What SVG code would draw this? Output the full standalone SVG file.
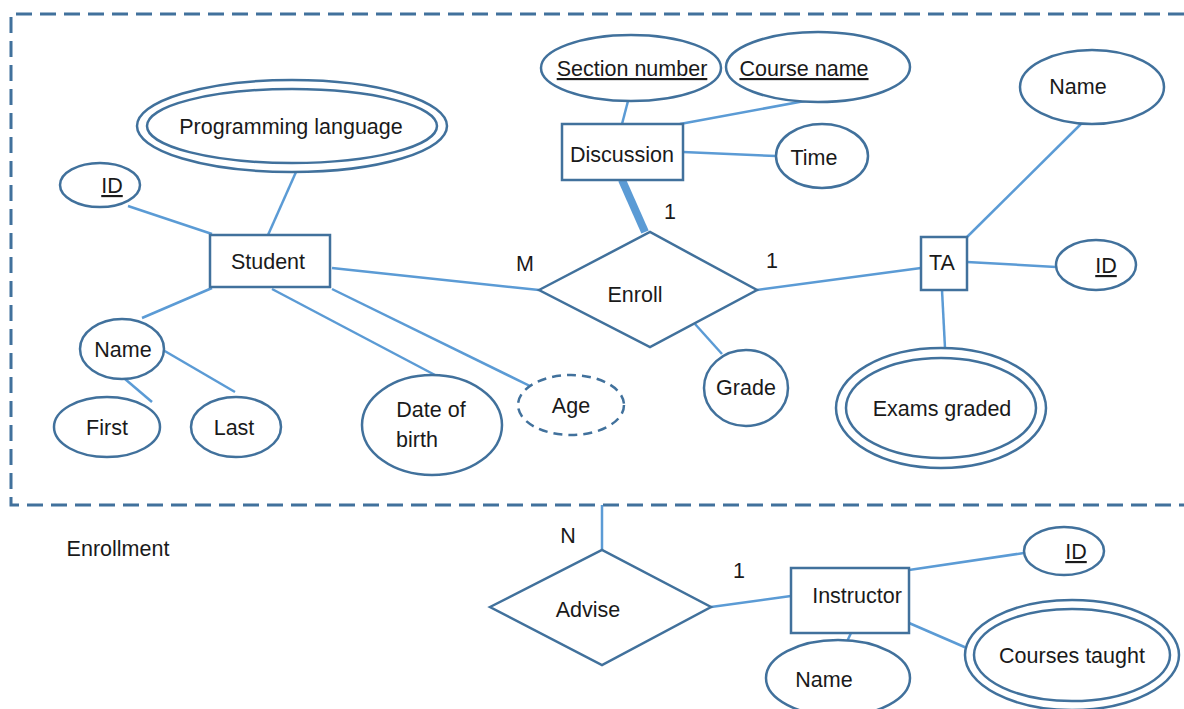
<svg xmlns="http://www.w3.org/2000/svg" width="1184" height="709" viewBox="0 0 1184 709">
<style>
.n{fill:#fff;stroke:#41719C;stroke-width:2.5}
.d{fill:#fff;stroke:#41719C;stroke-width:2.5;stroke-dasharray:9 6}
.c{stroke:#5B9BD5;stroke-width:2.5;fill:none}
text{font-family:"Liberation Sans",Arial,sans-serif;font-size:21.5px;fill:#1a1a1a;text-anchor:middle}
.u{text-decoration:underline}
</style>
<rect width="1184" height="709" fill="#fff"/>
<path d="M1184,14 H11 V505 H1184" fill="none" stroke="#41719C" stroke-width="3" stroke-dasharray="16 8"/>
<g id="connectors">
<line class="c" x1="128" y1="206" x2="212" y2="234"/>
<line class="c" x1="296" y1="172" x2="268" y2="235"/>
<line class="c" x1="212" y1="288" x2="142" y2="318"/>
<line class="c" x1="125" y1="379" x2="152" y2="402"/>
<line class="c" x1="163" y1="350" x2="235" y2="392"/>
<line class="c" x1="272" y1="289" x2="435" y2="375"/>
<line class="c" x1="332" y1="289" x2="534" y2="388"/>
<line class="c" x1="332" y1="268" x2="539" y2="290"/>
<line class="c" x1="757" y1="290" x2="921" y2="268"/>
<line class="c" x1="695" y1="324" x2="722" y2="354"/>
<line class="c" x1="628" y1="101" x2="622" y2="124"/>
<line class="c" x1="680" y1="124" x2="810" y2="100"/>
<line class="c" x1="683" y1="152" x2="776" y2="156"/>
<line x1="622" y1="180" x2="645" y2="232" stroke="#5B9BD5" stroke-width="8"/>
<line class="c" x1="966" y1="238" x2="1087" y2="118"/>
<line class="c" x1="967" y1="262" x2="1056" y2="267"/>
<line class="c" x1="942" y1="290" x2="945" y2="348"/>
<line class="c" x1="602" y1="505" x2="602" y2="550"/>
<line class="c" x1="711" y1="607" x2="791" y2="596"/>
<line class="c" x1="909" y1="570" x2="1024" y2="553"/>
<line class="c" x1="851" y1="633" x2="844" y2="648"/>
<line class="c" x1="909" y1="623" x2="976" y2="652"/>
</g>
<g id="student-id"><ellipse class="n" cx="100" cy="185" rx="40" ry="22"/><text class="u" x="112" y="193">ID</text></g>
<g id="programming-language"><ellipse class="n" cx="292" cy="126" rx="155" ry="46"/><ellipse class="n" cx="292" cy="126" rx="145" ry="37"/><text x="291" y="134">Programming language</text></g>
<g id="student"><rect class="n" x="210" y="235" width="120" height="52"/><text x="268" y="269">Student</text></g>
<g id="student-name"><ellipse class="n" cx="122" cy="349" rx="42" ry="30"/><text x="123" y="357">Name</text></g>
<g id="first"><ellipse class="n" cx="107" cy="427" rx="53" ry="30"/><text x="107" y="435">First</text></g>
<g id="last"><ellipse class="n" cx="236" cy="427" rx="45" ry="30"/><text x="234" y="435">Last</text></g>
<g id="dob"><ellipse class="n" cx="432" cy="425" rx="70" ry="50"/><text x="431" y="417">Date of</text><text x="417" y="447">birth</text></g>
<g id="age"><ellipse class="d" cx="571" cy="405" rx="53" ry="30"/><text x="571" y="413">Age</text></g>
<g id="enroll"><polygon class="n" points="539,290 650,232 757,290 650,347"/><text x="635" y="302">Enroll</text></g>
<g id="discussion"><rect class="n" x="562" y="124" width="121" height="56"/><text x="622" y="162">Discussion</text></g>
<g id="section-number"><ellipse class="n" cx="631" cy="68" rx="90" ry="33"/><text class="u" x="632" y="76">Section number</text></g>
<g id="course-name"><ellipse class="n" cx="818" cy="67" rx="92" ry="35"/><text class="u" x="804" y="76">Course name</text></g>
<g id="time"><ellipse class="n" cx="822" cy="156" rx="46" ry="32"/><text x="814" y="165">Time</text></g>
<g id="ta"><rect class="n" x="921" y="237" width="46" height="53"/><text x="942" y="270">TA</text></g>
<g id="ta-name"><ellipse class="n" cx="1092" cy="87" rx="72" ry="37"/><text x="1078" y="94">Name</text></g>
<g id="ta-id"><ellipse class="n" cx="1096" cy="265" rx="40" ry="25"/><text class="u" x="1106" y="273">ID</text></g>
<g id="exams-graded"><ellipse class="n" cx="941" cy="408" rx="105" ry="60"/><ellipse class="n" cx="941" cy="408" rx="95" ry="50"/><text x="942" y="416">Exams graded</text></g>
<g id="grade"><ellipse class="n" cx="746" cy="388" rx="42" ry="38"/><text x="746" y="395">Grade</text></g>
<g id="labels">
<text x="525" y="271">M</text>
<text x="670" y="219">1</text>
<text x="772" y="268">1</text>
<text x="568" y="543">N</text>
<text x="739" y="578">1</text>
<text x="118" y="556">Enrollment</text>
</g>
<g id="advise"><polygon class="n" points="490,607 602,550 711,607 602,665"/><text x="588" y="617">Advise</text></g>
<g id="instructor"><rect class="n" x="791" y="568" width="118" height="65"/><text x="857" y="603">Instructor</text></g>
<g id="instructor-id"><ellipse class="n" cx="1064" cy="551" rx="40" ry="24"/><text class="u" x="1076" y="559">ID</text></g>
<g id="courses-taught"><ellipse class="n" cx="1072" cy="655" rx="107" ry="55"/><ellipse class="n" cx="1072" cy="655" rx="98" ry="46"/><text x="1072" y="663">Courses taught</text></g>
<g id="instructor-name"><ellipse class="n" cx="838" cy="678" rx="72" ry="38"/><text x="824" y="687">Name</text></g>
</svg>
